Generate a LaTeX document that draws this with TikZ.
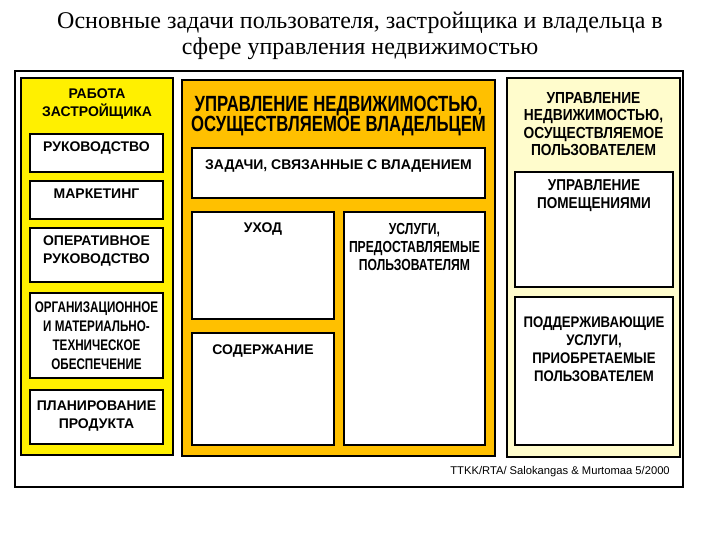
\documentclass[tikz,border=0pt]{standalone}
\usepackage{fontspec}
\setmainfont{Liberation Serif}
\setsansfont{Liberation Sans}
\newfontfamily\narrowsf[FakeStretch=0.76]{Liberation Sans}
\newfontfamily\condsf[FakeStretch=0.86]{Liberation Sans}
\definecolor{devyellow}{RGB}{255,240,0}
\definecolor{ownorange}{RGB}{255,192,0}
\definecolor{userpale}{RGB}{255,252,204}

\begin{document}
\begin{tikzpicture}[x=0.75pt, y=-0.75pt, line join=miter,
	panel/.style={draw=black, line width=1.5pt},
	cell/.style={draw=black, fill=white, line width=2.2pt},
	lbl/.style={font=\sffamily\bfseries\fontsize{10.5}{13.5}\selectfont, align=center, inner sep=0pt},
	narrowlbl/.style={lbl, font=\narrowsf\bfseries\fontsize{11.5}{14.2}\selectfont},
	userlbl/.style={lbl, font=\condsf\bfseries\fontsize{11.6}{13}\selectfont},
	headlbl/.style={lbl, font=\narrowsf\bfseries\fontsize{16.5}{15}\selectfont}]
	\useasboundingbox (0,0) rectangle (720,540);
	% title
	\node[font=\fontsize{18}{19.5}\selectfont, align=center, inner sep=0pt] (title) at (360,36)
		{Основные задачи пользователя, застройщика и владельца в\\ сфере управления недвижимостью};
	\draw[line width=0.8pt] (15,71) rectangle (683,487);
	% panels
	\draw[panel, fill=devyellow] (21,78) rectangle (173,455);
	\draw[panel, fill=ownorange] (182,80) rectangle (495,456);
	\draw[panel, fill=userpale] (507,78) rectangle (680,457);
	% developer
	\draw[cell] (30,134) rectangle (163,172);
	\draw[cell] (30,181) rectangle (163,219);
	\draw[cell] (30,228) rectangle (163,282);
	\draw[cell] (30,293) rectangle (163,378);
	\draw[cell] (30,390) rectangle (163,444);
	\node[lbl] (dev) at (97,104) {РАБОТА\\ЗАСТРОЙЩИКА};
	\node[lbl] (ruk) at (96.5,148) {РУКОВОДСТВО};
	\node[lbl] (mark) at (96.5,194) {МАРКЕТИНГ};
	\node[lbl] (oper) at (96.5,251) {ОПЕРАТИВНОЕ\\РУКОВОДСТВО};
	\node[narrowlbl] (org) at (96.5,336) {ОРГАНИЗАЦИОННОЕ\\И МАТЕРИАЛЬНО-\\ТЕХНИЧЕСКОЕ\\ОБЕСПЕЧЕНИЕ};
	\node[lbl] (plan) at (96.5,416) {ПЛАНИРОВАНИЕ\\ПРОДУКТА};
	% owner
	\draw[cell] (192,148) rectangle (485,198);
	\draw[cell] (192,212) rectangle (334,319);
	\draw[cell] (344,212) rectangle (485,445);
	\draw[cell] (192,333) rectangle (334,445);
	\node[headlbl] (own) at (338.5,116) {УПРАВЛЕНИЕ НЕДВИЖИМОСТЬЮ,\\ОСУЩЕСТВЛЯЕМОЕ ВЛАДЕЛЬЦЕМ};
	\node[lbl] (zad) at (338.5,166) {ЗАДАЧИ, СВЯЗАННЫЕ С ВЛАДЕНИЕМ};
	\node[lbl] (uhod) at (263,229) {УХОД};
	\node[narrowlbl, font=\narrowsf\bfseries\fontsize{12}{13.8}\selectfont] (usl) at (414.5,247) {УСЛУГИ,\\ПРЕДОСТАВЛЯЕМЫЕ\\ПОЛЬЗОВАТЕЛЯМ};
	\node[lbl] (sod) at (263,351) {СОДЕРЖАНИЕ};
	% user
	\draw[cell] (515,172) rectangle (673,287);
	\draw[cell] (515,297) rectangle (673,445);
	\node[userlbl, font=\condsf\bfseries\fontsize{12}{13}\selectfont] (usr) at (593.5,124) {УПРАВЛЕНИЕ\\НЕДВИЖИМОСТЬЮ,\\ОСУЩЕСТВЛЯЕМОЕ\\ПОЛЬЗОВАТЕЛЕМ};
	\node[userlbl, font=\condsf\bfseries\fontsize{11.8}{13.5}\selectfont] (pom) at (594,196) {УПРАВЛЕНИЕ\\ПОМЕЩЕНИЯМИ};
	\node[userlbl, font=\condsf\bfseries\fontsize{11.5}{13.5}\selectfont] (podd) at (594,349) {ПОДДЕРЖИВАЮЩИЕ\\УСЛУГИ,\\ПРИОБРЕТАЕМЫЕ\\ПОЛЬЗОВАТЕЛЕМ};
	\node[font=\sffamily\fontsize{8.4}{9}\selectfont, anchor=east, inner sep=0pt] (src) at (670,472) {TTKK/RTA/ Salokangas \& Murtomaa 5/2000};
\end{tikzpicture}
\end{document}
